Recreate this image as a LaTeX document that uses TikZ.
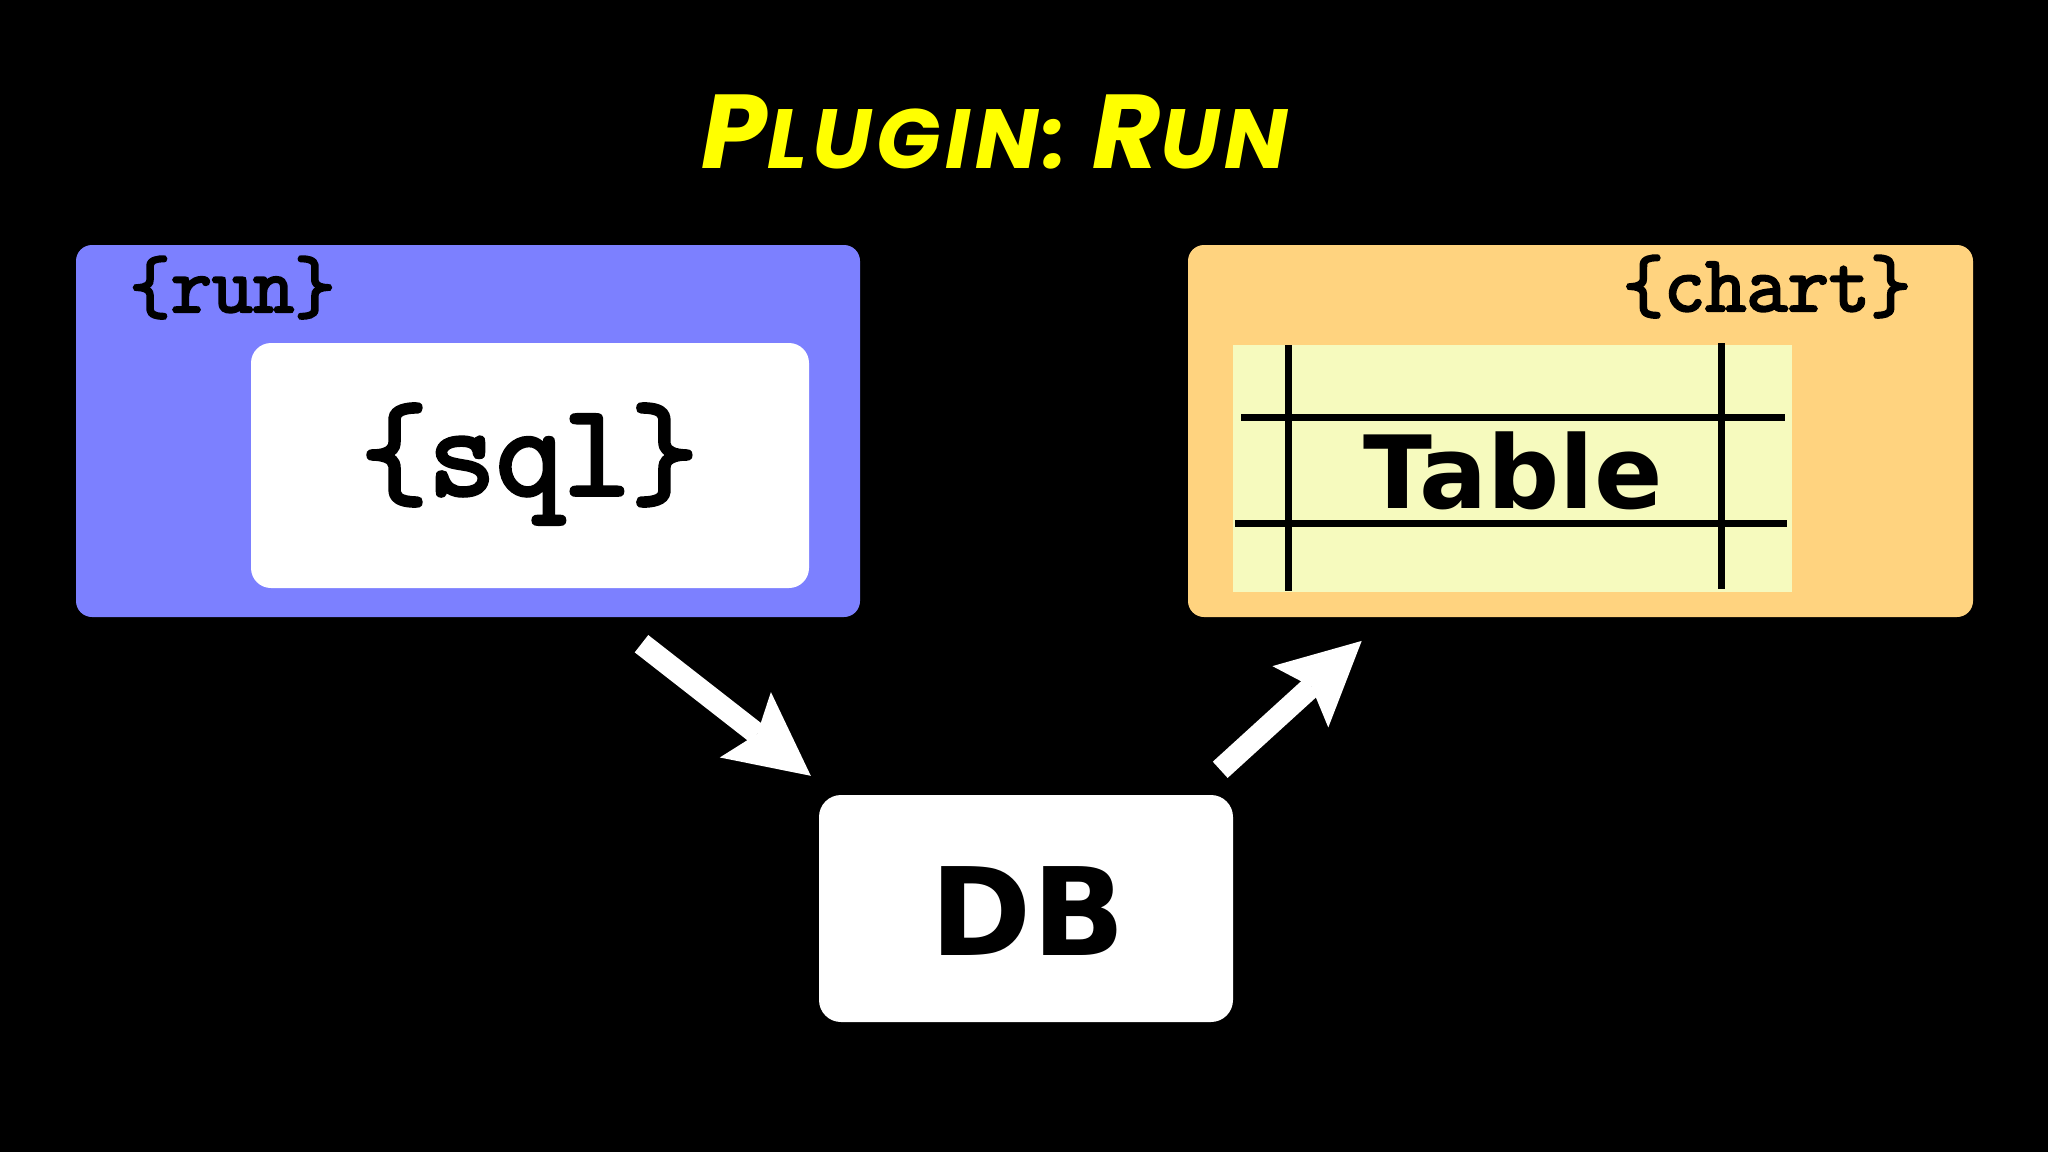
\documentclass[tikz,border=0pt]{standalone}
\usepackage{fontspec}
\usetikzlibrary{arrows.meta}
\newfontfamily\boldsans{DejaVu Sans}
\newfontfamily\titlefont[LetterSpace=6]{Poppins}
\newfontfamily\codefont[FakeBold=3]{Latin Modern Mono}
\definecolor{runblue}{RGB}{124,128,255}
\definecolor{chartorange}{RGB}{255,211,127}
\definecolor{tableyellow}{RGB}{246,250,190}
\definecolor{titleyellow}{RGB}{255,255,0}
\begin{document}
\begin{tikzpicture}[x=1pt,y=-1pt]
\tikzstyle{panel}=[rounded corners=16pt,minimum width=784pt,minimum height=372pt,inner sep=0pt]
\tikzstyle{card}=[fill=white,inner sep=0pt]
\tikzstyle{rule}=[draw,line width=7pt]
\tikzstyle{flow}=[draw=white,line width=22pt,-{Stealth[length=83pt,width=83pt,inset=15pt,line width=0pt]}]
\tikzstyle{tag}=[anchor=base,inner sep=0pt,font=\codefont\fontsize{80}{80}\selectfont]
\tikzstyle{big}=[anchor=base,inner sep=0pt,font=\boldsans\bfseries\fontsize{101}{101}\selectfont]
\fill[black](0,0)rectangle(2048,1152);
\useasboundingbox(0,0)rectangle(2048,1152);
% title
\node[titleyellow,anchor=base,inner sep=0pt,font=\titlefont\bfseries\itshape](title)at(995,168){\fontsize{105}{105}\selectfont P\fontsize{84}{84}\selectfont LUGIN: \fontsize{105}{105}\selectfont R\fontsize{84}{84}\selectfont UN};
% boxes
\node[panel,fill=runblue](run)at(468,431){};
\node[panel,fill=chartorange,minimum width=785pt](chart)at(1580.5,431){};
\node[card,rounded corners=20pt,minimum width=558pt,minimum height=245pt](sql)at(530,465.5){};
\node[fill=tableyellow,inner sep=0pt,minimum width=559pt,minimum height=247pt](table)at(1512.5,468.5){};
\node[card,rounded corners=22pt,minimum width=414pt,minimum height=227pt](db)at(1026,908.5){};
% labels
\node[tag](runlabel)at(232.5,312){\{run\}};
\node[tag](chartlabel)at(1767,311){\{chart\}};
\node[tag,font=\codefont\fontsize{131}{131}\selectfont](sqllabel)at(529.5,495){\{sql\}};
% table grid
\path[rule](1241,417)--(1785,417);
\path[rule](1235,523)--(1787,523);
\path[rule](1288,345)--(1288,591);
\path[rule](1721,343)--(1721,589);
\node[big](tablelabel)at(1513,508){Table};
\node[big,font=\boldsans\bfseries\fontsize{122}{122}\selectfont](dblabel)at(1028,955){DB};
% arrows
\coordinate(sqlout)at([shift={(111.5,55.5)}]sql.south);
\coordinate(dbin)at([shift={(-8,-19)}]db.north west);
\coordinate(dbout)at([shift={(-13,-25)}]db.north east);
\coordinate(chartin)at([shift={(-218.8,23.7)}]chart.south);
\path[flow](sqlout)--(dbin);
\path[flow](dbout)--(chartin);
\end{tikzpicture}
\end{document}
